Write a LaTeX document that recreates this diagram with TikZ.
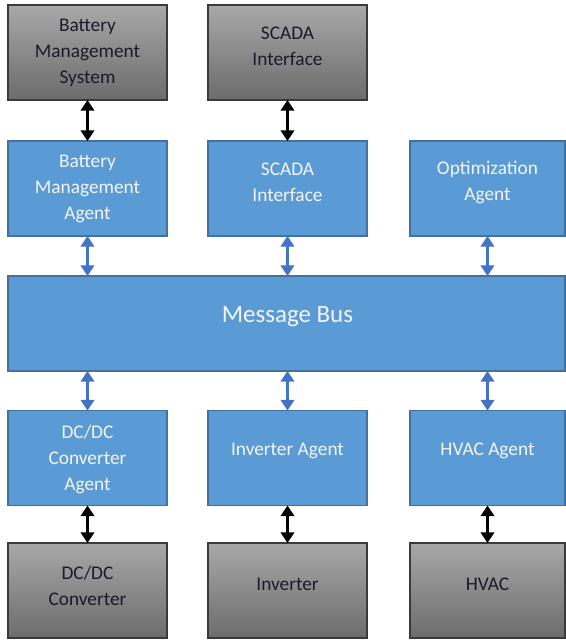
\documentclass[tikz,border=0pt]{standalone}
\usepackage{fontspec}
\setmainfont{Carlito}
\usetikzlibrary{arrows.meta}
\definecolor{bfill}{HTML}{5B9BD5}
\definecolor{bdraw}{HTML}{41719C}
\definecolor{btxt}{HTML}{F4F4F4}
\definecolor{barrow}{HTML}{4472C4}
\definecolor{gtop}{HTML}{A8A8A8}
\definecolor{gbot}{HTML}{6C6C6C}
\definecolor{gdraw}{HTML}{3A3A3A}
\definecolor{gtxt}{HTML}{1A1A2A}
\tikzset{
  bluebox/.style={draw=bdraw, line width=0.8pt, fill=bfill, minimum height=71.25pt, inner sep=0pt},
  graybox/.style={draw=gdraw, line width=0.8pt, top color=gtop, bottom color=gbot, minimum width=119.25pt, minimum height=71.25pt, inner sep=0pt},
  wlbl/.style={text=btxt, align=center, font=\fontsize{14.5pt}{19.5pt}\selectfont, inner sep=0pt},
  glbl/.style={text=gtxt, align=center, font=\fontsize{14.5pt}{19.5pt}\selectfont, inner sep=0pt},
  blkarrow/.style={line width=2.3pt, black, {Triangle[width=10pt,length=8pt]}-{Triangle[width=10pt,length=8pt]}, shorten <=-0.4pt, shorten >=-0.4pt},
  bluarrow/.style={line width=2.1pt, barrow, {Triangle[width=10pt,length=8pt]}-{Triangle[width=10pt,length=8pt]}, shorten <=-0.4pt, shorten >=-0.4pt}
}
\begin{document}
\begin{tikzpicture}[x=0.75pt,y=-0.75pt]
\useasboundingbox (0,0) rectangle (566,640);
% gray top
\node[graybox] (bms) at (87.5,52.5) {};
\node[graybox] (scadag) at (287.5,52.5) {};
% blue row 1
\node[bluebox, minimum width=119.25pt] (bma) at (87.5,188.5) {};
\node[bluebox, minimum width=119.25pt] (scadab) at (287.5,188.5) {};
\node[bluebox, minimum width=116.25pt] (opt) at (487.5,188.5) {};
% bus
\node[bluebox, minimum width=417.75pt] (bus) at (286.5,323.5) {};
% blue row 2
\node[bluebox, minimum width=119.25pt] (dca) at (87.5,458) {};
\node[bluebox, minimum width=119.25pt] (inva) at (287.5,458) {};
\node[bluebox, minimum width=116.25pt] (hvaca) at (487.5,458) {};
% gray bottom
\node[graybox] (dc) at (87.5,590.5) {};
\node[graybox] (inv) at (287.5,590.5) {};
\node[graybox, minimum width=116.25pt] (hvac) at (487.5,590.5) {};
% labels
\node[glbl] (bmsT) at (87.5,53) {Battery\\Management\\System};
\node[glbl] (scadagT) at (287.5,46) {SCADA\\Interface};
\node[wlbl] (bmaT) at (87.5,189) {Battery\\Management\\Agent};
\node[wlbl] (scadabT) at (287.5,182) {SCADA\\Interface};
\node[wlbl] (optT) at (487.5,182) {Optimization\\Agent};
\node[wlbl, font=\fontsize{18.7pt}{22pt}\selectfont] (busT) at (287.5,317) {Message Bus};
\node[wlbl] (dcaT) at (87.5,459) {DC/DC\\Converter\\Agent};
\node[wlbl] (invaT) at (287.5,451) {Inverter Agent};
\node[wlbl] (hvacaT) at (487.5,451) {HVAC Agent};
\node[glbl] (dcT) at (87.5,585.5) {DC/DC\\Converter};
\node[glbl] (invT) at (287.5,584) {Inverter};
\node[glbl] (hvacT) at (487.5,584) {HVAC};
% arrows
\draw[blkarrow] (bms.south) -- (bma.north);
\draw[blkarrow] (scadag.south) -- (scadab.north);
\draw[bluarrow] (bma.south) -- (bma.south |- bus.north);
\draw[bluarrow] (scadab.south) -- (scadab.south |- bus.north);
\draw[bluarrow] (opt.south) -- (opt.south |- bus.north);
\draw[bluarrow] (dca.north |- bus.south) -- (dca.north);
\draw[bluarrow] (inva.north |- bus.south) -- (inva.north);
\draw[bluarrow] (hvaca.north |- bus.south) -- (hvaca.north);
\draw[blkarrow] (dca.south) -- (dc.north);
\draw[blkarrow] (inva.south) -- (inv.north);
\draw[blkarrow] (hvaca.south) -- (hvac.north);
\end{tikzpicture}
\end{document}
